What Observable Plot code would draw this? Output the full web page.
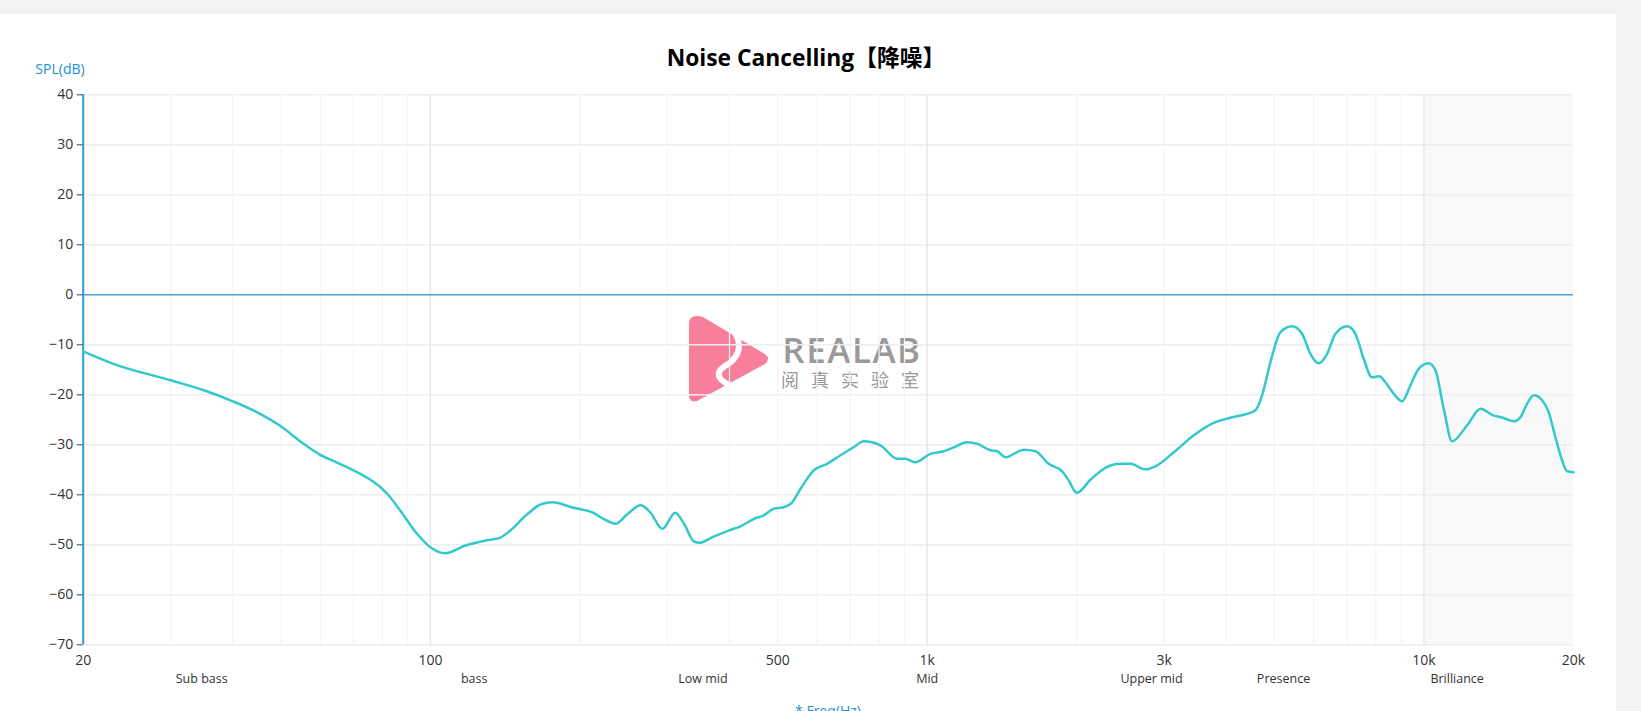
<!DOCTYPE html>
<html>
<head>
<meta charset="utf-8">
<script src="https://cdn.jsdelivr.net/npm/d3@7"></script>
<script src="https://cdn.jsdelivr.net/npm/@observablehq/plot@0.6"></script>
<style>
  html, body { margin: 0; padding: 0; }
  body { background: #f2f2f2; width: 1641px; height: 711px; overflow: hidden;
         font-family: "Open Sans", "Noto Sans CJK SC", sans-serif; }
  #card { position: absolute; left: 0; top: 14px; width: 1616px; height: 697px; background: #fff; overflow: hidden; }
  #title { position: absolute; left: 0; width: 1612px; top: 33px; text-align: center;
           font-size: 22.8px; line-height: 22px; font-weight: bold; color: #000; white-space: nowrap; }
  #ylab { position: absolute; left: 20px; width: 80px; top: 48px; text-align: center;
          font-size: 14px; line-height: 14px; color: #1a8fd4; white-space: nowrap; }
  #xlab { position: absolute; left: 728px; width: 200px; top: 690px; text-align: center;
          font-size: 14px; line-height: 14px; color: #1a8fd4; white-space: nowrap; }
  #wm { position: absolute; left: 0; top: 0; }
  #chart { position: absolute; left: 0; top: 0; }
</style>
</head>
<body>
<div id="card">
  <svg id="wm" width="1616" height="697">
    <g transform="translate(689,302)">
      <path d="M8,0 Q0,0 0,8 L0,79 Q0,87 8,85 L76,48 Q82,43 76,38 L14,1 Q11,0 8,0 Z" fill="#f87f9c"/>
      <path d="M40,9 C52,22 56,38 36,50 C24,58 30,66 48,72" fill="none" stroke="#fff" stroke-width="6" stroke-linecap="round"/>
    </g>
    <text x="852" y="349" text-anchor="middle" font-family="Open Sans, sans-serif" font-weight="600" font-size="35" fill="#9a9a9a" letter-spacing="1.5">REALAB</text>
    <text x="856" y="373" text-anchor="middle" font-family="Noto Sans CJK SC" font-size="18" fill="#9a9a9a" letter-spacing="12">阅真实验室</text>
  </svg>
  <div id="chart"></div>
  <div id="title">Noise Cancelling【降噪】</div>
  <div id="ylab">SPL(dB)</div>
  <div id="xlab">* Freq(Hz)</div>
</div>
<script>
// ---- data ----
const freq = [20, 23, 30, 35, 40, 45, 50, 55, 60, 65, 70, 76, 80, 83, 87, 94, 100, 107, 118, 130, 138, 145, 157, 167, 176, 194, 213, 223, 236, 249, 265, 277, 293, 311, 324, 339, 348, 369, 402, 421, 448, 469, 491, 514, 535, 556, 591, 629, 669, 711, 745, 805, 870, 904, 947, 1015, 1080, 1131, 1203, 1260, 1341, 1383, 1437, 1564, 1652, 1756, 1869, 1926, 2000, 2131, 2284, 2450, 2566, 2750, 2880, 3136, 3440, 3774, 4078, 4406, 4578, 4722, 4908, 5140, 5428, 5684, 5906, 6138, 6384, 6634, 7004, 7278, 7564, 7862, 8134, 8364, 8692, 9038, 9392, 9760, 10220, 10544, 10960, 11392, 12214, 13000, 13712, 14400, 15200, 15638, 16130, 16632, 17294, 17832, 18392, 18968, 19410, 20000];
const spl = [-11.3, -13.8, -17.1, -19.1, -21.3, -23.6, -26.3, -29.5, -32.0, -33.6, -35.1, -37.1, -38.8, -40.5, -43.2, -47.8, -50.5, -51.7, -50.1, -49.1, -48.6, -47.1, -43.8, -41.9, -41.5, -42.6, -43.6, -44.8, -45.8, -43.9, -42.1, -43.5, -46.8, -43.6, -45.8, -49.3, -49.6, -48.5, -47.0, -46.3, -44.8, -44.1, -42.8, -42.5, -41.5, -38.8, -35.1, -33.8, -32.1, -30.5, -29.3, -30.1, -32.8, -32.8, -33.5, -31.8, -31.3, -30.5, -29.5, -29.8, -31.1, -31.3, -32.5, -31.0, -31.3, -33.8, -35.3, -37.1, -39.6, -37.0, -34.6, -33.8, -33.8, -34.9, -34.3, -31.5, -28.1, -25.6, -24.6, -23.8, -23.1, -20.1, -13.5, -7.5, -6.3, -7.8, -11.8, -13.7, -11.8, -7.8, -6.3, -7.8, -12.8, -16.5, -16.3, -17.5, -19.8, -21.3, -18.1, -14.8, -13.7, -15.1, -22.8, -29.3, -26.1, -22.8, -24.0, -24.6, -25.3, -24.5, -21.8, -20.1, -21.1, -23.5, -28.5, -33.1, -35.3, -35.5];

const xTicks = [20, 100, 500, 1000, 3000, 10000, 20000];
const xTickLabels = ["20", "100", "500", "1k", "3k", "10k", "20k"];
const yTicks = [40, 30, 20, 10, 0, -10, -20, -30, -40, -50, -60, -70];
const minorGrid = [30, 40, 50, 60, 70, 80, 90, 200, 300, 400, 500, 600, 700, 800, 900, 2000, 3000, 4000, 5000, 6000, 7000, 8000, 9000];
const majorGrid = [100, 1000, 10000];
const bandNames = ["Sub bass", "bass", "Low mid", "Mid", "Upper mid", "Presence", "Brilliance"];
const bandEdges = [20, 60, 250, 500, 2000, 4000, 6800, 20000];
const shadedBand = [10000, 20000];

const curve = freq.map((f, i) => ({f, db: spl[i]}));
const bands = bandNames.map((name, i) => ({name, f: Math.sqrt(bandEdges[i] * bandEdges[i + 1])}));

const blue = "#2f9ce0";

const chart = Plot.plot({
  width: 1616,
  height: 697,
  marginLeft: 82.7,
  marginRight: 43,
  marginTop: 80.3,
  marginBottom: 66.7,
  style: {background: "transparent", fontFamily: "'Open Sans', 'Noto Sans CJK SC', sans-serif", fontSize: "14px", color: "#333", overflow: "visible"},
  x: {type: "log", domain: [20, 20000]},
  y: {domain: [-70, 40]},
  marks: [
    Plot.rect([shadedBand], {x1: d => d[0], x2: d => d[1], y1: -70, y2: 40, fill: "#f9f9f9"}),
    Plot.ruleY(yTicks, {stroke: "#eeeeee", strokeWidth: 1.5}),
    Plot.ruleX(minorGrid, {stroke: "#f2f4fa", strokeWidth: 1.2}),
    Plot.ruleX(majorGrid, {stroke: "#e6e8ec", strokeWidth: 1.5}),
    Plot.ruleY([0], {stroke: "#4aa6df", strokeWidth: 1.5}),
    Plot.ruleX([20], {stroke: blue, strokeWidth: 2}),
    Plot.axisY(yTicks, {tickSize: 6, tickPadding: 4, fontSize: 14, stroke: "#444", color: "#333", label: null}),
    Plot.axisX(xTicks, {tickSize: 0, tickPadding: 10, fontSize: 14, tickFormat: d => xTickLabels[xTicks.indexOf(d)], label: null}),
    Plot.text(bands, {x: "f", text: "name", frameAnchor: "bottom", dy: 37.7, fontSize: 12.5, fill: "#333"}),
    Plot.line(curve, {x: "f", y: "db", stroke: "#33c9cc", strokeWidth: 2.5, curve: "monotone-x"})
  ]
});
document.getElementById("chart").appendChild(chart);
</script>
</body>
</html>
